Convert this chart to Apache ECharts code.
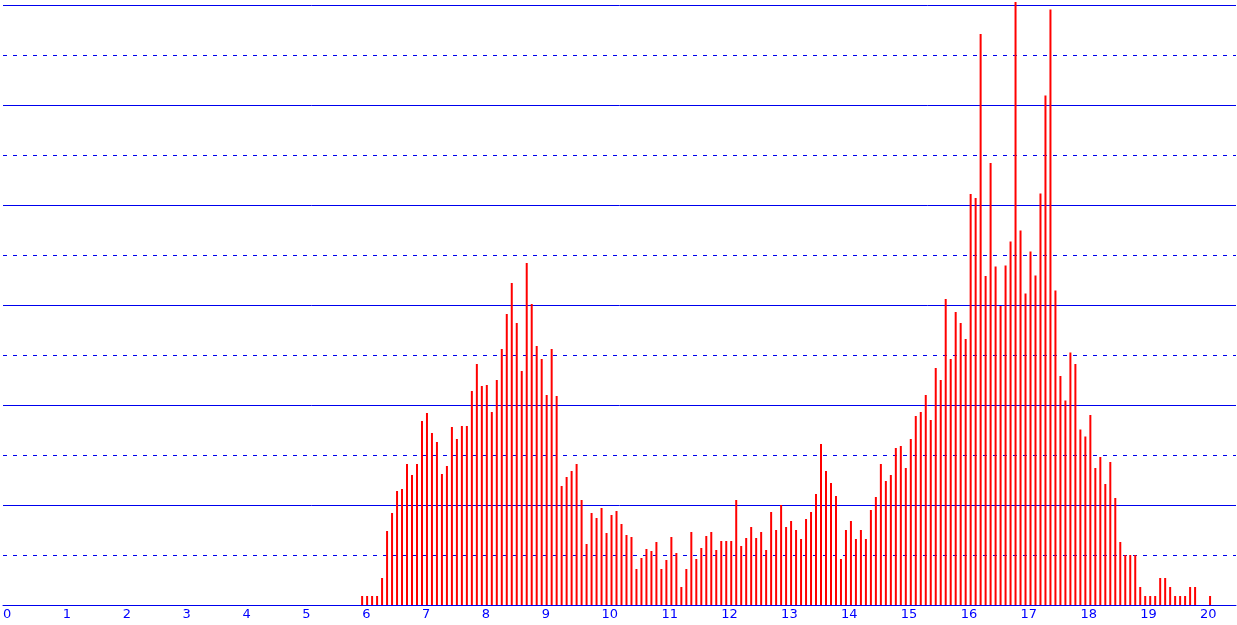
<!DOCTYPE html>
<html>
<head>
<meta charset="utf-8">
<script src="https://cdn.jsdelivr.net/npm/echarts@6/dist/echarts.min.js"></script>
<style>
  html, body { margin: 0; padding: 0; background: #ffffff; }
  #chart { width: 1237px; height: 625px; }
</style>
</head>
<body>
<div id="chart"></div>
<script>
// Histogram bins: first bin starts at 6, 12 bins per unit
const binStart = 6;
const binsPerUnit = 12;
const values = [
  0.18, 0.18, 0.18, 0.18, 0.54, 1.48, 1.84, 2.28, 2.32, 2.82, 2.60, 2.82,
  3.68, 3.84, 3.44, 3.26, 2.62, 2.78, 3.56, 3.32, 3.58, 3.58, 4.28, 4.82,
  4.38, 4.40, 3.86, 4.50, 5.12, 5.82, 6.44, 5.64, 4.68, 6.84, 6.02, 5.18,
  4.92, 4.20, 5.12, 4.18, 2.38, 2.56, 2.68, 2.82, 2.10, 1.22, 1.84, 1.74,
  1.94, 1.44, 1.80, 1.88, 1.62, 1.40, 1.36, 0.72, 0.94, 1.12, 1.08, 1.26,
  0.72, 0.90, 1.36, 1.04, 0.36, 0.72, 1.46, 0.92, 1.14, 1.38, 1.46, 1.10,
  1.28, 1.28, 1.28, 2.10, 1.18, 1.34, 1.56, 1.34, 1.46, 1.10, 1.86, 1.50,
  2.00, 1.56, 1.68, 1.50, 1.32, 1.72, 1.86, 2.22, 3.22, 2.68, 2.44, 2.18,
  0.92, 1.50, 1.68, 1.32, 1.50, 1.32, 1.90, 2.16, 2.82, 2.48, 2.60, 3.14,
  3.18, 2.74, 3.32, 3.78, 3.86, 4.20, 3.70, 4.74, 4.50, 6.12, 4.92, 5.86,
  5.64, 5.32, 8.22, 8.14, 11.42, 6.58, 8.84, 6.77, 5.98, 6.79, 7.27, 12.06,
  7.49, 6.23, 7.07, 6.59, 8.23, 10.19, 11.91, 6.29, 4.58, 4.09, 5.05, 4.82,
  3.51, 3.37, 3.80, 2.74, 2.96, 2.42, 2.86, 2.14, 1.26, 1.00, 1.00, 1.00,
  0.36, 0.18, 0.18, 0.18, 0.54, 0.54, 0.36, 0.18, 0.18, 0.18, 0.36, 0.36,
  0, 0, 0.18
];
const xTickLabels = ['0','1','2','3','4','5','6','7','8','9','10','11','12','13','14','15','16','17','18','19','20'];

const data = values.map((v, i) => [binStart + i / binsPerUnit, v]);

const chart = echarts.init(document.getElementById('chart'), null, { renderer: 'canvas' });
chart.setOption({
  animation: false,
  backgroundColor: '#ffffff',
  grid: { left: 0, right: 1, top: 5, bottom: 20, containLabel: false },
  xAxis: {
    type: 'value',
    min: 0,
    max: 20.6,
    interval: 1,
    axisLine: { show: true, lineStyle: { color: '#0000ee', width: 1 } },
    axisTick: { show: false },
    splitLine: { show: false },
    axisLabel: {
      show: true,
      showMaxLabel: false,
      align: 'left',
      margin: 3,
      color: '#0000ff',
      fontFamily: 'DejaVu Sans',
      fontSize: 13,
      formatter: function (v) {
        const idx = Math.round(v);
        return (Math.abs(v - idx) < 1e-6 && idx < xTickLabels.length) ? xTickLabels[idx] : '';
      }
    }
  },
  yAxis: {
    type: 'value',
    min: 0,
    max: 12,
    interval: 2,
    axisLine: { show: false },
    axisTick: { show: false },
    axisLabel: { show: false },
    splitLine: { show: true, lineStyle: { color: '#0000ee', width: 1, type: 'solid' } },
    minorTick: { show: false, splitNumber: 2 },
    minorSplitLine: { show: true, lineStyle: { color: '#0000ee', width: 1, type: [4, 6] } }
  },
  series: [{
    type: 'bar',
    data: data,
    barWidth: 2,
    clip: false,
    itemStyle: { color: '#ff0000' }
  }]
});
</script>
</body>
</html>
